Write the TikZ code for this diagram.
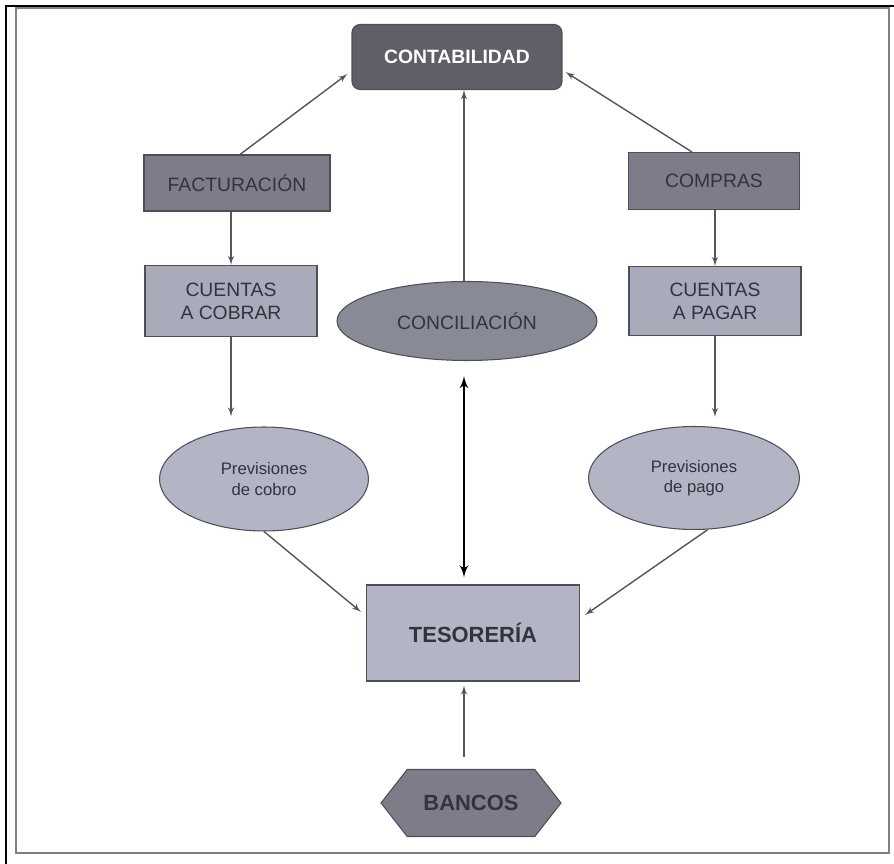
\documentclass[tikz,border=0pt]{standalone}
\usepackage{fontspec}
\setmainfont{Liberation Sans}
\usetikzlibrary{arrows}
\usetikzlibrary{calc}
\usetikzlibrary{shapes.geometric}
\usetikzlibrary{shapes.symbols}

\definecolor{edge}{HTML}{4E4E57}
\definecolor{darkfill}{HTML}{5E5F69}
\definecolor{midfill}{HTML}{7C7D88}
\definecolor{concfill}{HTML}{888A96}
\definecolor{lightfill}{HTML}{A9ABBB}
\definecolor{palefill}{HTML}{B3B5C5}
\definecolor{ink}{HTML}{33333D}
\definecolor{arrowgray}{HTML}{55555B}

\begin{document}
\begin{tikzpicture}[x=0.02cm,y=-0.02cm,inner sep=2pt,>=latex',
  box/.style={draw=edge,line width=0.6pt,align=center,text=ink,font=\fontsize{11}{13}\selectfont},
  oval/.style={box,ellipse},
  flow/.style={->,draw=arrowgray,line width=0.8pt}]
\useasboundingbox (0,0) rectangle (894,864);
% frame
\draw [gray,line width=0.9pt] (16,8) rectangle (889,853);
\draw [black,line width=1.2pt] (6,864) -- (6,6) -- (894,6);
% nodes
\draw node [box,fill=darkfill,text=white,rounded corners=0.16cm,minimum width=4.2cm,minimum height=1.3cm,font=\bfseries\fontsize{11}{13}\selectfont] (CONT) at (457,57) {CONTABILIDAD};
\draw node [box,fill=midfill,minimum width=3.72cm,minimum height=1.12cm] (FACT) at (237,183) {FACTURACIÓN};
\draw node [box,fill=midfill,minimum width=3.42cm,minimum height=1.14cm] (COMP) at (714,181) {COMPRAS};
\draw node [box,fill=lightfill,minimum width=3.44cm,minimum height=1.42cm] (CCOB) at (231,301) {CUENTAS\\A COBRAR};
\draw node [box,fill=lightfill,minimum width=3.44cm,minimum height=1.38cm] (CPAG) at (715,301) {CUENTAS\\A PAGAR};
\draw node [oval,fill=concfill,minimum width=5.2cm,minimum height=1.58cm] (CONC) at (467,321) {CONCILIACIÓN};
\draw node [oval,fill=palefill,minimum width=4.18cm,minimum height=2.08cm,font=\fontsize{9.5}{11.5}\selectfont] (PCOB) at (264,479) {Previsiones\\de cobro};
\draw node [oval,fill=palefill,minimum width=4.22cm,minimum height=2.06cm,font=\fontsize{9.5}{11.5}\selectfont] (PPAG) at (694,478) {Previsiones\\de pago};
\draw node [box,fill=palefill,minimum width=4.26cm,minimum height=1.92cm,font=\bfseries\fontsize{12.5}{14}\selectfont] (TES) at (473,633) {TESORERÍA};
\draw node [box,fill=midfill,signal,signal to=east and west,signal pointer angle=104,minimum width=3.6cm,minimum height=1.34cm,font=\bfseries\fontsize{12.5}{14}\selectfont] (BAN) at (471,803) {BANCOS};
\coordinate (S) at (464,0);
% connectors
\draw [flow] ($ (FACT.north) + (3,0) $) -- ($ (CONT.west) + (-4,17) $);
\draw [flow] ($ (COMP.north) + (-22,0) $) -- ($ (CONT.east) + (3,15) $);
\draw [flow] (S |- CONC.north) -- (S |- CONT.south);
\draw [flow] (CCOB.north |- FACT.south) -- (CCOB.north);
\draw [flow] (CPAG.north |- COMP.south) -- (CPAG.north);
\draw [flow,shorten >=0.2cm] (CCOB.south) -- (CCOB.south |- PCOB.north);
\draw [flow,shorten >=0.18cm] (CPAG.south) -- (CPAG.south |- PPAG.north);
\draw [<->,black,line width=1.4pt,shorten <=0.3cm,shorten >=0.14cm] (S |- CONC.south) -- (S |- TES.north);
\draw [flow] (PCOB.south) -- ($ (TES.west) + (-5,-21) $);
\draw [flow] (PPAG.-75) -- ($ (TES.east) + (5,-18) $);
\draw [flow,shorten <=0.24cm,shorten >=0.08cm] (S |- BAN.north) -- (S |- TES.south);
\end{tikzpicture}
\end{document}
